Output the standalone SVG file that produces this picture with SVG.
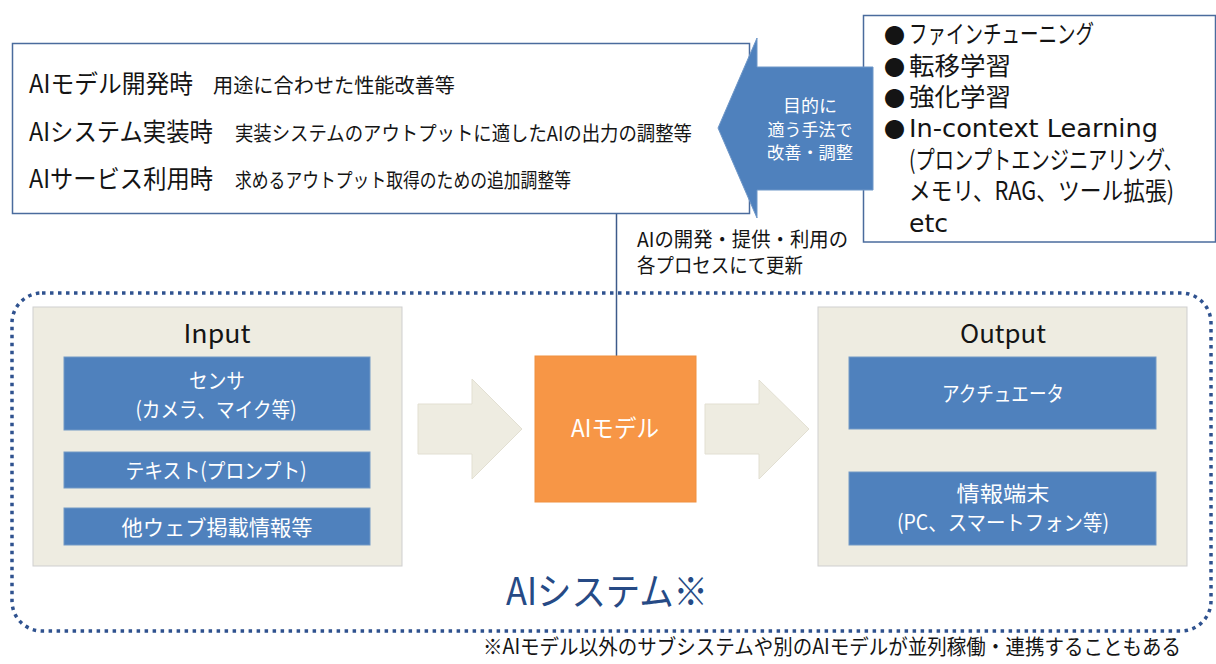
<svg xmlns="http://www.w3.org/2000/svg" width="1216" height="664" viewBox="0 0 1216 664">
<style>
text{font-family:"Noto Sans CJK JP","Noto Sans",sans-serif;fill:#141414}
.lat{font-family:"DejaVu Sans","Noto Sans CJK JP",sans-serif}
.w{fill:#ffffff}
.bul{font-size:21px}
.frame{fill:#ffffff;stroke:#4a6b9d;stroke-width:1.5}
.panel{fill:#eeece1;stroke:#cfcfcf;stroke-width:1}
.blue{fill:#4f81bd;stroke:#7399c6;stroke-width:1}
.flow{fill:#eeece1;stroke:#e2dfd2;stroke-width:1}
</style>

<g id="connectors">
  <line x1="616.5" y1="213" x2="616.5" y2="356" stroke="#3c5a8a" stroke-width="1.5"/>
  <polygon class="flow" points="418,404 472,404 472,379 522,429 472,479 472,454 418,454"/>
  <polygon class="flow" points="705,404 759,404 759,380 809,429 759,479 759,454 705,454"/>
</g>

<g id="ai-system">
  <rect x="12" y="293" width="1199" height="338" rx="30" ry="30" fill="none" stroke="#2f528f" stroke-width="3.5" stroke-dasharray="3.5 4.5"/>
  <text x="607" y="605" font-size="38" text-anchor="middle" textLength="202" lengthAdjust="spacingAndGlyphs" style="fill:#264a85">AIシステム※</text>
</g>

<g id="phases">
  <rect class="frame" x="12.5" y="43.5" width="737" height="170"/>
  <text x="29" y="93" font-size="25" textLength="164" lengthAdjust="spacingAndGlyphs">AIモデル開発時</text>
  <text x="213" y="93" font-size="20" textLength="242" lengthAdjust="spacingAndGlyphs">用途に合わせた性能改善等</text>
  <text x="29" y="141" font-size="25" textLength="184" lengthAdjust="spacingAndGlyphs">AIシステム実装時</text>
  <text x="235" y="141" font-size="20" textLength="457" lengthAdjust="spacingAndGlyphs">実装システムのアウトプットに適したAIの出力の調整等</text>
  <text x="29" y="188" font-size="25" textLength="184" lengthAdjust="spacingAndGlyphs">AIサービス利用時</text>
  <text x="235" y="188" font-size="20" textLength="336" lengthAdjust="spacingAndGlyphs">求めるアウトプット取得のための追加調整等</text>
</g>

<g id="methods">
  <rect class="frame" x="863.5" y="15.5" width="352" height="226.5"/>
  <text class="bul" x="884" y="43">●</text>
  <text x="909" y="43" font-size="25" textLength="185" lengthAdjust="spacingAndGlyphs">ファインチューニング</text>
  <text class="bul" x="884" y="75">●</text>
  <text x="909" y="75" font-size="25" textLength="102" lengthAdjust="spacingAndGlyphs">転移学習</text>
  <text class="bul" x="884" y="106">●</text>
  <text x="909" y="106" font-size="25" textLength="102" lengthAdjust="spacingAndGlyphs">強化学習</text>
  <text class="bul" x="884" y="137">●</text>
  <text class="lat" x="909" y="137" font-size="24" textLength="249" lengthAdjust="spacingAndGlyphs">In-context Learning</text>
  <text x="909" y="169" font-size="25" textLength="274" lengthAdjust="spacingAndGlyphs">(プロンプトエンジニアリング、</text>
  <text x="909" y="200" font-size="25" textLength="265" lengthAdjust="spacingAndGlyphs">メモリ、RAG、ツール拡張)</text>
  <text class="lat" x="909" y="232" font-size="24" textLength="39" lengthAdjust="spacingAndGlyphs">etc</text>
</g>

<g id="improve-arrow">
  <polygon points="718,128 757,38 757,67 873,67 873,190 757,190 757,218" fill="#4f81bd" stroke="#6f97c8" stroke-width="1"/>
  <text class="w" x="810" y="112" font-size="17" text-anchor="middle" textLength="54" lengthAdjust="spacingAndGlyphs">目的に</text>
  <text class="w" x="810" y="136" font-size="17" text-anchor="middle" textLength="85" lengthAdjust="spacingAndGlyphs">適う手法で</text>
  <text class="w" x="810" y="159" font-size="17" text-anchor="middle" textLength="86" lengthAdjust="spacingAndGlyphs">改善・調整</text>
</g>

<g id="update-label">
  <text x="637" y="247" font-size="20" textLength="211" lengthAdjust="spacingAndGlyphs">AIの開発・提供・利用の</text>
  <text x="637" y="273" font-size="20" textLength="166" lengthAdjust="spacingAndGlyphs">各プロセスにて更新</text>
</g>

<g id="input">
  <rect class="panel" x="33" y="307" width="369" height="259"/>
  <text x="217" y="343" font-size="25" text-anchor="middle" textLength="67" lengthAdjust="spacingAndGlyphs">Input</text>
  <g id="sensor">
    <rect class="blue" x="64" y="357" width="306" height="73"/>
    <text class="w" x="217" y="388" font-size="21" text-anchor="middle" textLength="56" lengthAdjust="spacingAndGlyphs">センサ</text>
    <text class="w" x="216" y="417" font-size="21" text-anchor="middle" textLength="161" lengthAdjust="spacingAndGlyphs">(カメラ、マイク等)</text>
  </g>
  <g id="text-prompt">
    <rect class="blue" x="64" y="452" width="306" height="36"/>
    <text class="w" x="216" y="478" font-size="21" text-anchor="middle" textLength="181" lengthAdjust="spacingAndGlyphs">テキスト(プロンプト)</text>
  </g>
  <g id="web-info">
    <rect class="blue" x="64" y="508" width="306" height="37"/>
    <text class="w" x="217" y="535" font-size="21" text-anchor="middle" textLength="191" lengthAdjust="spacingAndGlyphs">他ウェブ掲載情報等</text>
  </g>
</g>

<g id="ai-model">
  <rect x="535" y="356" width="161" height="146" fill="#f79646" stroke="#f0903f" stroke-width="1"/>
  <text class="w" x="615" y="437" font-size="24" text-anchor="middle" textLength="88" lengthAdjust="spacingAndGlyphs">AIモデル</text>
</g>

<g id="output">
  <rect class="panel" x="818" y="307" width="369" height="259"/>
  <text x="1003" y="343" font-size="25" text-anchor="middle" textLength="86" lengthAdjust="spacingAndGlyphs">Output</text>
  <g id="actuator">
    <rect class="blue" x="849" y="357" width="307" height="72"/>
    <text class="w" x="1003" y="401" font-size="21" text-anchor="middle" textLength="122" lengthAdjust="spacingAndGlyphs">アクチュエータ</text>
  </g>
  <g id="terminal">
    <rect class="blue" x="849" y="472" width="307" height="73"/>
    <text class="w" x="1003" y="501" font-size="21" text-anchor="middle" textLength="93" lengthAdjust="spacingAndGlyphs">情報端末</text>
    <text class="w" x="1003" y="530" font-size="21" text-anchor="middle" textLength="212" lengthAdjust="spacingAndGlyphs">(PC、スマートフォン等)</text>
  </g>
</g>

<g id="footnote">
  <text x="483" y="654" font-size="21" textLength="698" lengthAdjust="spacingAndGlyphs">※AIモデル以外のサブシステムや別のAIモデルが並列稼働・連携することもある</text>
</g>
</svg>
